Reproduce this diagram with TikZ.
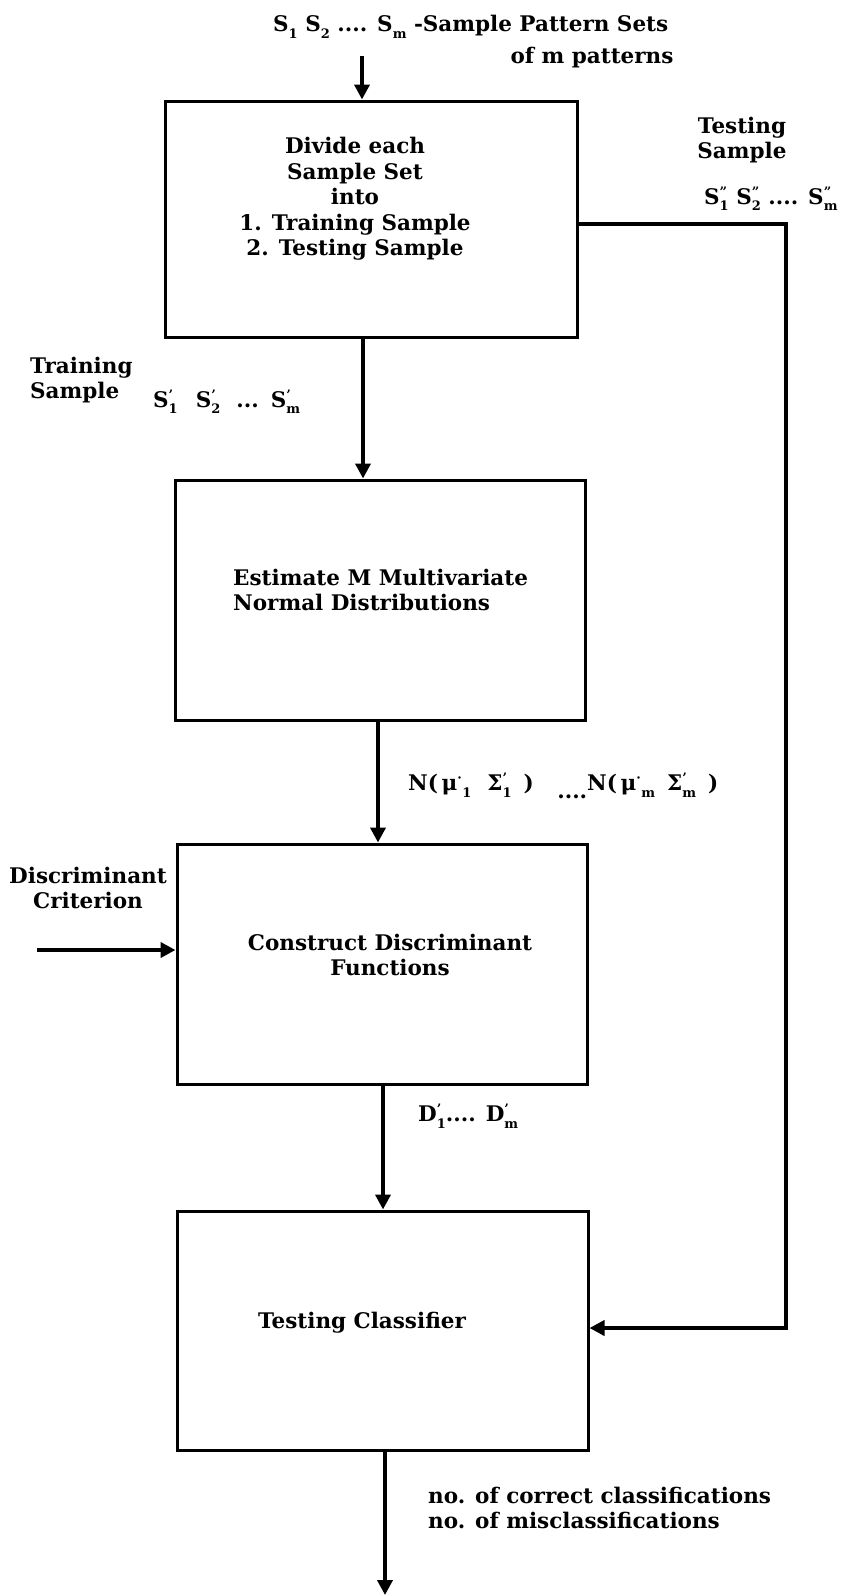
\documentclass[tikz,border=0pt]{standalone}
\usepackage{fontspec}
\setmainfont{DejaVu Serif}
\usetikzlibrary{arrows.meta}
\newcommand\SX[3]{#1\rlap{\raisebox{0.7ex}{\fontsize{13}{13}\selectfont #2}}\raisebox{-0.6ex}{\fontsize{13}{13}\selectfont #3}}
\begin{document}
\begin{tikzpicture}[x=1pt,y=-1pt,
  box/.style={draw, line width=3pt, inner sep=0pt},
  arr/.style={line width=4pt, -{Triangle[length=15pt,width=15pt]}},
  lbl/.style={font=\bfseries\fontsize{21.5}{25.5}\selectfont, inner sep=0pt}]
\useasboundingbox (0,0) rectangle (844,1595);

% boxes
\node[box, minimum width=412pt, minimum height=236pt] (b1) at (371,219) {};
\node[box, minimum width=410pt, minimum height=240pt] (b2) at (380,600) {};
\node[box, minimum width=410pt, minimum height=240pt] (b3) at (382,964) {};
\node[box, minimum width=411pt, minimum height=239pt] (b4) at (382.5,1330.5) {};

% box texts
\node[lbl, align=center] (t1) at (355,199) {Divide each\\Sample Set\\into\hspace*{18pt}\\1. Training Sample\\2. Testing Sample};
\node[lbl, align=left, anchor=west] (t2) at (233,590) {Estimate M Multivariate\\Normal Distributions};
\node[lbl, align=center] (t3) at (390,955) {Construct Discriminant\\Functions};
\node[lbl] (t4) at (362,1323) {Testing Classifier};

% outside labels
\node[lbl, anchor=west] (top1) at (273,27) {\SX{S}{}{1} \SX{S}{}{2} .... \SX{S}{}{m} -Sample Pattern Sets};
\node[lbl] (top2) at (592,58) {of m patterns};
\node[lbl, align=center] (tsl) at (742,140) {Testing\\Sample};
\node[lbl, anchor=west] (tss) at (704,199) {\SX{S}{"}{1}\ \SX{S}{"}{2}\ .... \SX{S}{"}{m}};
\node[lbl, align=left, anchor=west] (trl) at (30,380) {Training\\Sample};
\node[lbl, anchor=west] (trs) at (153,402) {\SX{S}{'}{1}\hspace{18pt}\SX{S}{'}{2}\hspace{16pt}...\hspace{12pt}\SX{S}{'}{m}};
\node[lbl, anchor=west] (nl) at (408,786) {N(\,\SX{μ}{·}{\hspace{5pt}1}\hspace{16pt}\SX{Σ}{'}{1}\hspace{12pt}) \hspace{16pt}\raisebox{-0.7ex}{....}N(\,\SX{μ}{·}{\hspace{5pt}m}\hspace{12pt}\SX{Σ}{'}{m}\hspace{12pt})};
\node[lbl, align=center] (dcl) at (88,888) {Discriminant\\Criterion};
\node[lbl, anchor=west] (dl) at (418,1116) {\SX{D}{'}{1}.... \SX{D}{'}{m}};
\node[lbl, align=left, anchor=west] (ol) at (428,1508) {no. of correct classifications\\no. of misclassifications};

% coordinates
\coordinate (in) at (362,56);
\coordinate (x12) at (363,0);
\coordinate (x23) at (378,0);
\coordinate (x34) at (383,0);
\coordinate (fbT) at (786,224);
\coordinate (fbB) at (786,1328);
\coordinate (dc) at (37,950);
\coordinate (out) at (385,1595);

% connectors
\draw[arr] (in) -- (b1.north -| in);
\draw[arr] (b1.south -| x12) -- (b2.north -| x12);
\draw[arr] (b2.south -| x23) -- (b3.north -| x23);
\draw[arr] (b3.south -| x34) -- (b4.north -| x34);
\draw[arr] (b1.east |- fbT) -- (fbT) -- (fbB) -- (b4.east |- fbB);
\draw[arr] (dc) -- (b3.west |- dc);
\draw[arr] (b4.south -| out) -- (out);
\end{tikzpicture}
\end{document}
